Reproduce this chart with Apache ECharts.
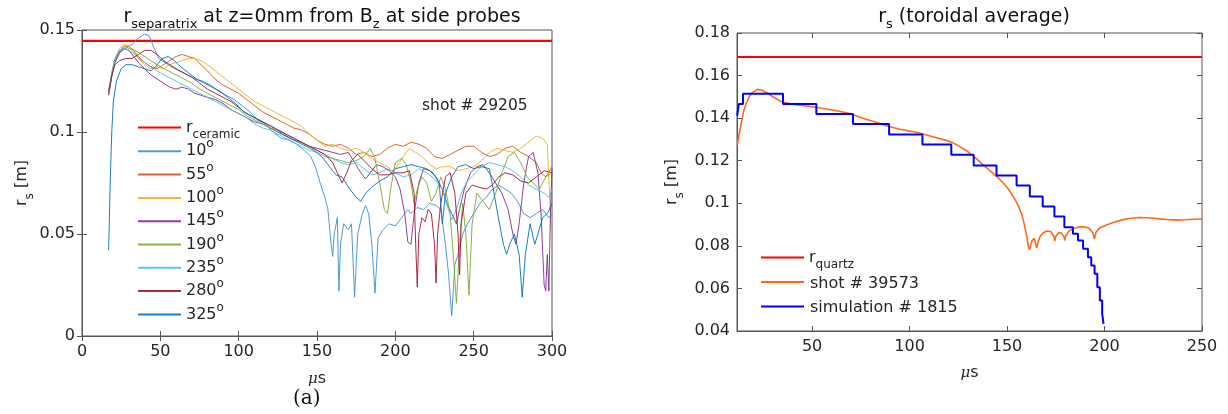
<!DOCTYPE html>
<html><head><meta charset="utf-8">
<script src="https://cdn.jsdelivr.net/npm/echarts@6/dist/echarts.min.js"></script>
<style>html,body{margin:0;padding:0;background:#fff}#c{width:1228px;height:414px}</style>
</head><body><div id="c"></div>
<script>
// ---------------- data ----------------
const leftXTicks = [0, 50, 100, 150, 200, 250, 300];
const rightXTicks = [50, 100, 150, 200, 250];
const rCeramic = 0.1447;
const rQuartz = 0.1687;

const s10 = [[17,0.120],[19,0.128],[21,0.134],[24,0.139],[28,0.141],[32,0.143],[36,0.146],[40,0.148],[43,0.147],[46,0.141],[49,0.136],[53,0.134],[57,0.132],[62,0.130],[67,0.128],[72,0.126],[77,0.125],[82,0.123],[87,0.120],[92,0.118],[97,0.116],[102,0.113],[107,0.110],[112,0.106],[117,0.104],[122,0.100],[127,0.097],[132,0.096],[137,0.094],[142,0.091],[146,0.088],[149,0.083],[152,0.075],[155,0.068],[157,0.062],[159,0.045],[160,0.039],[161,0.050],[163,0.058],[164,0.022],[165,0.045],[167,0.055],[170,0.052],[172,0.055],[174,0.019],[176,0.050],[179,0.060],[181,0.064],[183,0.060],[185,0.045],[187,0.021],[189,0.048],[192,0.052],[196,0.055],[200,0.054],[204,0.058],[208,0.062],[210,0.060],[214,0.063],[218,0.062],[222,0.065],[226,0.064],[229,0.062],[232,0.045],[234,0.030],[236,0.010],[238,0.035],[240,0.040],[243,0.050],[246,0.055],[250,0.060],[254,0.065],[258,0.068],[262,0.072],[266,0.074],[270,0.072],[274,0.070],[278,0.066],[282,0.060],[286,0.058],[290,0.060],[294,0.062],[298,0.058],[300,0.060]];
const s55 = [[17,0.118],[19,0.128],[21,0.135],[24,0.140],[27,0.142],[30,0.142],[33,0.140],[36,0.137],[40,0.134],[44,0.132],[48,0.131],[52,0.133],[56,0.135],[60,0.137],[64,0.138],[68,0.137],[72,0.136],[76,0.133],[80,0.130],[85,0.126],[90,0.123],[95,0.121],[100,0.119],[105,0.116],[110,0.113],[115,0.110],[120,0.108],[125,0.106],[130,0.104],[135,0.102],[140,0.101],[145,0.099],[150,0.096],[155,0.094],[160,0.093],[165,0.094],[170,0.092],[175,0.089],[180,0.090],[185,0.088],[190,0.089],[195,0.092],[200,0.094],[205,0.093],[210,0.095],[215,0.094],[220,0.092],[225,0.088],[230,0.087],[235,0.089],[240,0.091],[245,0.093],[250,0.093],[255,0.090],[260,0.088],[265,0.089],[270,0.092],[275,0.093],[280,0.090],[285,0.088],[290,0.085],[293,0.080],[296,0.078],[300,0.083]];
const s100 = [[17,0.119],[19,0.129],[21,0.136],[24,0.141],[27,0.143],[30,0.142],[33,0.139],[36,0.136],[40,0.133],[44,0.131],[48,0.132],[52,0.131],[56,0.133],[60,0.134],[64,0.135],[68,0.136],[72,0.136],[76,0.135],[80,0.133],[85,0.130],[90,0.127],[95,0.124],[100,0.121],[105,0.118],[110,0.115],[115,0.113],[120,0.111],[125,0.109],[130,0.107],[135,0.105],[140,0.103],[145,0.099],[150,0.096],[155,0.093],[160,0.094],[165,0.092],[170,0.091],[175,0.092],[180,0.090],[185,0.087],[190,0.085],[195,0.083],[198,0.081],[201,0.083],[205,0.088],[209,0.092],[213,0.090],[217,0.088],[222,0.084],[226,0.082],[230,0.083],[235,0.083],[240,0.081],[245,0.082],[250,0.083],[255,0.086],[260,0.090],[265,0.092],[270,0.091],[275,0.090],[280,0.092],[285,0.095],[290,0.098],[294,0.097],[297,0.094],[299,0.060],[300,0.045]];
const s145 = [[17,0.118],[19,0.127],[21,0.134],[24,0.139],[27,0.141],[30,0.140],[33,0.137],[36,0.134],[40,0.131],[44,0.128],[48,0.126],[52,0.124],[56,0.122],[60,0.121],[64,0.122],[68,0.121],[72,0.119],[76,0.118],[80,0.117],[85,0.116],[90,0.114],[95,0.111],[100,0.109],[105,0.107],[110,0.105],[115,0.104],[120,0.102],[125,0.100],[130,0.098],[135,0.096],[140,0.095],[145,0.093],[150,0.092],[155,0.091],[160,0.090],[165,0.089],[170,0.090],[174,0.085],[178,0.080],[181,0.077],[184,0.080],[188,0.084],[192,0.083],[196,0.081],[200,0.078],[203,0.072],[206,0.060],[208,0.046],[210,0.045],[212,0.060],[215,0.075],[218,0.082],[222,0.081],[226,0.078],[230,0.072],[233,0.065],[236,0.060],[239,0.055],[241,0.062],[244,0.072],[248,0.080],[252,0.083],[256,0.084],[260,0.080],[264,0.075],[268,0.070],[272,0.062],[275,0.050],[277,0.045],[279,0.055],[282,0.075],[285,0.088],[288,0.090],[291,0.080],[293,0.060],[295,0.025],[296,0.022],[297,0.040],[298,0.022],[299,0.060],[300,0.082]];
const s190 = [[17,0.119],[19,0.128],[21,0.135],[24,0.140],[27,0.142],[30,0.141],[34,0.140],[38,0.138],[42,0.136],[46,0.134],[50,0.132],[55,0.130],[60,0.128],[65,0.126],[70,0.124],[75,0.121],[80,0.119],[85,0.117],[90,0.115],[95,0.113],[100,0.111],[105,0.108],[110,0.106],[115,0.104],[120,0.102],[125,0.101],[130,0.099],[135,0.097],[140,0.095],[145,0.093],[150,0.091],[155,0.089],[160,0.087],[165,0.086],[170,0.085],[175,0.086],[180,0.088],[184,0.092],[187,0.087],[190,0.075],[193,0.062],[195,0.060],[197,0.072],[200,0.085],[204,0.087],[207,0.084],[210,0.075],[212,0.065],[214,0.072],[217,0.078],[220,0.075],[223,0.066],[226,0.070],[229,0.078],[232,0.072],[235,0.060],[237,0.040],[239,0.016],[241,0.045],[243,0.065],[245,0.050],[247,0.020],[249,0.055],[252,0.070],[256,0.066],[260,0.062],[264,0.070],[268,0.080],[272,0.088],[276,0.090],[280,0.085],[284,0.078],[288,0.075],[292,0.072],[296,0.078],[300,0.080]];
const s235 = [[17,0.120],[19,0.129],[21,0.136],[24,0.140],[27,0.141],[30,0.140],[34,0.138],[38,0.135],[42,0.133],[46,0.131],[50,0.129],[55,0.127],[60,0.125],[65,0.123],[70,0.121],[75,0.119],[80,0.117],[85,0.115],[90,0.113],[95,0.111],[100,0.109],[105,0.107],[110,0.104],[115,0.102],[120,0.101],[125,0.099],[130,0.097],[135,0.095],[140,0.093],[145,0.091],[150,0.090],[155,0.088],[160,0.087],[165,0.085],[170,0.084],[175,0.085],[180,0.082],[185,0.079],[190,0.080],[195,0.082],[200,0.080],[205,0.078],[210,0.079],[215,0.082],[220,0.080],[225,0.077],[230,0.072],[233,0.064],[236,0.057],[239,0.062],[242,0.070],[246,0.076],[250,0.079],[255,0.083],[260,0.085],[265,0.084],[270,0.083],[275,0.081],[280,0.078],[285,0.074],[290,0.072],[295,0.070],[298,0.068],[300,0.072]];
const s280 = [[17,0.120],[19,0.128],[21,0.133],[24,0.135],[28,0.136],[32,0.136],[36,0.138],[40,0.140],[44,0.140],[48,0.138],[52,0.135],[56,0.133],[60,0.131],[65,0.129],[70,0.127],[75,0.124],[80,0.121],[85,0.119],[90,0.117],[95,0.115],[100,0.112],[105,0.109],[110,0.107],[115,0.105],[120,0.103],[125,0.101],[130,0.099],[135,0.097],[140,0.095],[145,0.093],[150,0.091],[155,0.089],[160,0.085],[163,0.080],[166,0.075],[169,0.080],[172,0.086],[176,0.089],[180,0.086],[185,0.082],[190,0.079],[195,0.079],[200,0.080],[205,0.080],[209,0.081],[212,0.070],[213,0.045],[214,0.024],[215,0.050],[217,0.058],[219,0.056],[221,0.062],[223,0.060],[225,0.045],[226,0.026],[227,0.050],[229,0.065],[232,0.078],[235,0.080],[238,0.070],[240,0.050],[241,0.030],[242,0.055],[245,0.070],[249,0.074],[253,0.073],[258,0.072],[262,0.074],[266,0.078],[270,0.080],[275,0.079],[280,0.076],[285,0.075],[290,0.078],[295,0.081],[300,0.080]];
const s325 = [[17,0.042],[18,0.075],[19,0.100],[20,0.115],[22,0.125],[25,0.131],[28,0.133],[32,0.133],[36,0.132],[40,0.131],[44,0.130],[47,0.132],[51,0.136],[55,0.137],[59,0.135],[63,0.132],[68,0.129],[73,0.126],[78,0.124],[83,0.122],[88,0.120],[93,0.117],[98,0.114],[103,0.110],[108,0.108],[113,0.106],[118,0.104],[123,0.102],[128,0.099],[133,0.097],[138,0.095],[143,0.093],[148,0.091],[153,0.088],[158,0.083],[162,0.079],[166,0.078],[170,0.073],[175,0.068],[178,0.066],[181,0.070],[185,0.073],[190,0.076],[195,0.078],[200,0.082],[205,0.083],[210,0.084],[215,0.083],[220,0.082],[224,0.080],[228,0.075],[230,0.055],[232,0.070],[236,0.078],[240,0.083],[245,0.084],[250,0.082],[255,0.083],[260,0.082],[263,0.070],[266,0.057],[269,0.045],[271,0.040],[273,0.045],[276,0.050],[279,0.040],[281,0.019],[283,0.040],[286,0.055],[289,0.045],[291,0.050],[294,0.058],[297,0.060],[300,0.065]];

const shot39573 = [[11.6,0.1271],[12.4,0.1315],[13.3,0.1357],[14.2,0.1400],[15,0.1436],[16.3,0.1470],[17.6,0.1498],[19.3,0.1519],[21.9,0.1535],[24,0.1532],[27,0.1518],[30,0.1500],[34,0.1478],[40,0.1465],[46,0.1458],[52,0.1451],[58,0.1442],[64,0.1432],[70,0.1420],[76,0.1400],[82,0.1383],[89,0.1362],[95,0.1348],[101,0.1338],[106,0.1328],[112,0.1313],[118,0.1298],[122,0.1285],[126,0.1265],[130,0.1242],[134,0.1212],[138,0.1178],[142,0.1148],[146,0.1115],[150,0.1075],[153,0.1035],[155.5,0.0995],[157.5,0.0950],[159,0.0895],[160.2,0.0840],[161,0.0795],[161.5,0.0781],[162,0.0800],[162.8,0.0825],[164,0.0835],[165.2,0.0790],[165.4,0.0786],[166,0.0820],[167,0.0845],[168.5,0.0862],[170.5,0.0870],[172.5,0.0866],[174,0.0845],[174.5,0.0822],[175,0.0845],[176.5,0.0862],[178,0.0860],[179.3,0.0840],[179.6,0.0825],[180,0.0845],[181.7,0.0869],[184.3,0.0883],[187,0.0889],[189.6,0.0890],[192,0.0884],[194,0.0862],[194.8,0.0833],[195.6,0.0862],[197.2,0.0883],[201,0.0898],[204.9,0.0911],[209,0.0922],[213.4,0.0930],[218,0.0933],[222,0.0932],[227,0.0928],[232,0.0924],[237,0.0921],[242,0.0923],[246,0.0925],[250,0.0927]];
const sim1815 = [[11.6,0.1412],[12.4,0.1466],[14.6,0.1515],[35.1,0.1467],[52.2,0.1420],[71,0.1373],[89.5,0.1323],[106.6,0.1276],[121.4,0.1228],[132.9,0.1178],[144.6,0.1131],[154.9,0.1084],[161.7,0.1032],[168.3,0.0985],[174.3,0.0938],[179.4,0.0888],[183.8,0.0857],[186.4,0.0825],[189,0.0786],[191.5,0.0747],[193.2,0.0708],[194.9,0.0669],[196.3,0.0606],[197.6,0.0543],[198.8,0.0481],[199.5,0.0434]];

// ---------------- styling ----------------
const FONT = 'DejaVu Sans';
const TXT = '#262626';
const AX = '#555555';
const FS = 16;
const LH = 24;

const rich = {
  m: {fontFamily: FONT, fontSize: FS, color: TXT, lineHeight: LH},
  sub: {fontFamily: FONT, fontSize: 12, color: TXT, lineHeight: LH, padding: [15,0,0,0]},
  sup: {fontFamily: FONT, fontSize: 12, color: TXT, lineHeight: LH, padding: [0,0,14,0]},
  m3: {fontFamily: FONT, fontSize: FS, color: TXT, lineHeight: LH, padding: [3,0,0,1]},
  mu: {fontFamily: 'DejaVu Serif', fontStyle: 'italic', fontSize: 15, color: TXT, lineHeight: 20},
  s: {fontFamily: FONT, fontSize: FS, color: TXT, lineHeight: 20}
};
const titleRich = {
  t: {fontFamily: FONT, fontSize: 19, fontWeight: 'normal', color: '#111', lineHeight: 26},
  ts: {fontFamily: FONT, fontSize: 13, fontWeight: 'normal', color: '#111', lineHeight: 26, padding: [15,0,0,0]}
};

function legendFmt(name) {
  if (name === 'r_ceramic') return '{m|r}{sub|ceramic}';
  if (name === 'r_quartz') return '{m|r}{sub|quartz}';
  if (name.endsWith('°')) return '{m|' + name.slice(0, -1) + '}{sup|o}';
  return '{m3|' + name + '}{sub| }';
}

const lineS = (name, data, color, width, xi, yi, extra) => Object.assign({
  name: name, type: 'line', data: data, xAxisIndex: xi, yAxisIndex: yi,
  symbol: 'none', showSymbol: false, animation: false,
  lineStyle: {color: color, width: width}, itemStyle: {color: color}
}, extra || {});

const leftSeriesList = [
  ['10°', s10, '#3d8fd1'], ['55°', s55, '#D95319'], ['100°', s100, '#EDB120'],
  ['145°', s145, '#7E2F8E'], ['190°', s190, '#77AC30'], ['235°', s235, '#4DBEEE'],
  ['280°', s280, '#A2142F'], ['325°', s325, '#0072BD']
];

const series = [
  lineS('r_ceramic', [[0, rCeramic], [300, rCeramic]], '#ff0000', 2.2, 0, 0)
];
leftSeriesList.forEach(d => series.push(lineS(d[0], d[1], d[2], 1, 0, 0, {lineStyle: {color: d[2], width: 1, opacity: 0.9}})));
series.push(lineS('r_quartz', [[11.5, rQuartz], [250, rQuartz]], '#ff0000', 2, 2, 2));
series.push(lineS('shot # 39573', shot39573, '#ff6a1a', 1.6, 2, 2));
series.push(lineS('simulation # 1815', sim1815, '#0000ff', 2, 2, 2, {step: 'end'}));

const axisLabelStyle = {fontFamily: FONT, fontSize: FS, color: TXT};
const tickIn = {show: true, inside: true, length: 5, lineStyle: {color: AX}};

const option = {
  animation: false,
  backgroundColor: '#ffffff',
  title: [
    {text: '{t|r}{ts|separatrix}{t| at z=0mm from B}{ts|z}{t| at side probes}', left: 317, top: -1, textAlign: 'center',
     textStyle: {fontWeight: 'normal', rich: titleRich}},
    {text: '{t|r}{ts|s}{t| (toroidal average)}', left: 969, top: -1, textAlign: 'center',
     textStyle: {fontWeight: 'normal', rich: titleRich}}
  ],
  grid: [
    {left: 82, top: 30, width: 470, height: 306, show: true, borderColor: AX, borderWidth: 1, backgroundColor: 'transparent'},
    {left: 737, top: 33, width: 465, height: 298, show: true, borderColor: AX, borderWidth: 1, backgroundColor: 'transparent'}
  ],
  xAxis: [
    {gridIndex: 0, type: 'value', min: 0, max: 300, interval: 50,
     axisLine: {show: true, lineStyle: {color: AX}}, axisTick: tickIn,
     axisLabel: Object.assign({margin: 8}, axisLabelStyle), splitLine: {show: false},
     name: '{mu|μ}{s|s}', nameLocation: 'middle', nameGap: 33, nameTextStyle: {rich: rich}},
    {gridIndex: 0, type: 'value', position: 'top', min: 0, max: 300, interval: 50,
     axisLine: {show: false}, axisTick: tickIn, axisLabel: {show: false}, splitLine: {show: false}},
    {gridIndex: 1, type: 'value', min: 11.5, max: 250,
     axisLine: {show: true, lineStyle: {color: AX}},
     axisTick: Object.assign({customValues: rightXTicks}, tickIn),
     axisLabel: Object.assign({margin: 8, customValues: rightXTicks}, axisLabelStyle), splitLine: {show: false},
     name: '{mu|μ}{s|s}', nameLocation: 'middle', nameGap: 32, nameTextStyle: {rich: rich}},
    {gridIndex: 1, type: 'value', position: 'top', min: 11.5, max: 250,
     axisLine: {show: false}, axisTick: Object.assign({customValues: rightXTicks}, tickIn),
     axisLabel: {show: false, customValues: rightXTicks}, splitLine: {show: false}}
  ],
  yAxis: [
    {gridIndex: 0, type: 'value', min: 0, max: 0.15, interval: 0.05,
     axisLine: {show: true, lineStyle: {color: AX}}, axisTick: tickIn,
     axisLabel: Object.assign({margin: 7}, axisLabelStyle), splitLine: {show: false},
     name: '{m|r}{sub|s}{m| [m]}', nameLocation: 'middle', nameRotate: 90, nameGap: 46, nameTextStyle: {rich: rich}},
    {gridIndex: 0, type: 'value', position: 'right', min: 0, max: 0.15, interval: 0.05,
     axisLine: {show: false}, axisTick: tickIn, axisLabel: {show: false}, splitLine: {show: false}},
    {gridIndex: 1, type: 'value', min: 0.04, max: 0.18, interval: 0.02,
     axisLine: {show: true, lineStyle: {color: AX}}, axisTick: tickIn,
     axisLabel: Object.assign({margin: 7}, axisLabelStyle), splitLine: {show: false},
     name: '{m|r}{sub|s}{m| [m]}', nameLocation: 'middle', nameRotate: 90, nameGap: 53, nameTextStyle: {rich: rich}},
    {gridIndex: 1, type: 'value', position: 'right', min: 0.04, max: 0.18, interval: 0.02,
     axisLine: {show: false}, axisTick: tickIn, axisLabel: {show: false}, splitLine: {show: false}}
  ],
  legend: [
    {data: ['r_ceramic'].concat(leftSeriesList.map(d => d[0])), orient: 'vertical', left: 137, top: 114, padding: 0,
     itemWidth: 43, itemHeight: 26, itemGap: -2.7, selectedMode: false, formatter: legendFmt,
     itemStyle: {opacity: 0}, textStyle: {rich: rich}},
    {data: ['r_quartz', 'shot # 39573', 'simulation # 1815'], orient: 'vertical', left: 760, top: 244, padding: 0,
     itemWidth: 43, itemHeight: 26, itemGap: -2.5, selectedMode: false, formatter: legendFmt,
     itemStyle: {opacity: 0}, textStyle: {rich: rich}}
  ],
  graphic: [
    {type: 'text', left: 422, top: 98, style: {text: 'shot # 29205', font: '15.5px "DejaVu Sans"', fill: TXT}},
    {type: 'text', left: 293, top: 389, style: {text: '(a)', font: '20px "DejaVu Serif"', fill: '#111'}}
  ],
  series: series
};

const chart = echarts.init(document.getElementById('c'), null, {renderer: 'canvas'});
chart.setOption(option);
</script>
</body></html>
